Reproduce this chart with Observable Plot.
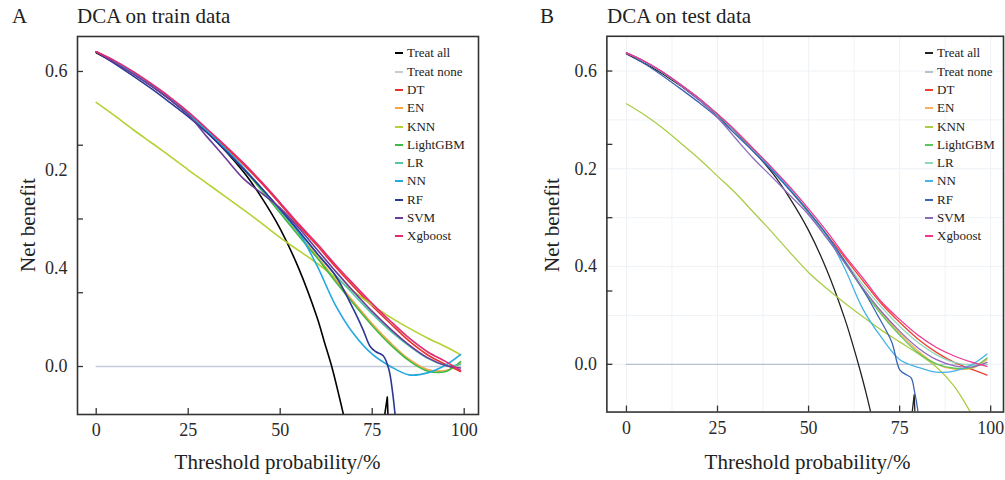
<!DOCTYPE html>
<html><head><meta charset="utf-8">
<script src="https://cdn.jsdelivr.net/npm/d3@7"></script>
<script src="https://cdn.jsdelivr.net/npm/@observablehq/plot@0.6"></script>
<style>
html,body{margin:0;padding:0;background:#fff;overflow:hidden;width:1005px;height:480px;}
#root{position:relative;width:1005px;height:480px;font-family:"Liberation Serif","Times New Roman",serif;color:#222;overflow:hidden;}
.panel{position:absolute;top:0;}
.panel svg text{font-family:"Liberation Serif","Times New Roman",serif !important;}
.lbl{position:absolute;white-space:nowrap;font-size:21px;line-height:21px;color:#222;}
.ylab{transform:translate(-50%,-50%) rotate(-90deg);}
.xlab{transform:translateX(-50%);}
.legend{position:absolute;font-size:13px;color:#222;}
.legend .row{position:absolute;left:0;height:18px;display:flex;align-items:center;white-space:nowrap;}
.legend .sw{width:8px;height:2px;margin-right:4px;}
</style></head>
<body><div id="root"></div>
<script>
// ---------- data ----------
const seriesNames = ["Treat all","Treat none","DT","EN","KNN","LightGBM","LR","NN","RF","SVM","Xgboost"];
const colorsTrain = ["#000000","#c3ccd8","#e8332a","#f7a440","#b3d233","#3dbb45","#4fc6a6","#23a8df","#2b3896","#6b3a9b","#e22a73"];
const colorsTest  = ["#222222","#b7c1cf","#f0412f","#f9b15a","#a9cd46","#5cc65a","#8dd8bc","#45b2e8","#3a63b5","#8c6bbd","#f2358d"];

const tGrid = [0,5,10,15,20,25,30,35,40,45,50,55,60,65,70,75,80,85,90,95,99];
const noneT = [0,99];
const noneV = [0,0];

// train (panel A)
const trainDT      = [0.640,0.621,0.598,0.573,0.546,0.516,0.482,0.447,0.411,0.372,0.330,0.287,0.246,0.203,0.162,0.123,0.087,0.052,0.024,0.004,-0.010];
const trainEN      = [0.640,0.620,0.597,0.572,0.545,0.514,0.479,0.442,0.402,0.359,0.313,0.268,0.224,0.177,0.131,0.087,0.048,0.015,-0.006,-0.008,0.006];
const trainKNN     = [0.537,0.510,0.482,0.455,0.428,0.400,0.373,0.346,0.319,0.291,0.262,0.236,0.210,0.181,0.152,0.125,0.100,0.078,0.058,0.040,0.024];
const trainLightGBM= [0.640,0.620,0.597,0.572,0.545,0.514,0.479,0.442,0.402,0.358,0.312,0.266,0.221,0.173,0.127,0.083,0.044,0.012,-0.009,-0.010,0.010];
const trainLR      = [0.640,0.620,0.597,0.572,0.545,0.514,0.480,0.443,0.404,0.362,0.318,0.273,0.230,0.186,0.146,0.107,0.072,0.042,0.017,0.002,0.004];
const trainNN      = [0.640,0.620,0.597,0.572,0.545,0.514,0.480,0.443,0.404,0.362,0.318,0.273,0.205,0.125,0.066,0.025,0.000,-0.017,-0.013,0.003,0.024];
const trainSVM     = [0.640,0.618,0.595,0.570,0.543,0.512,0.468,0.425,0.382,0.352,0.322,0.282,0.238,0.194,0.152,0.112,0.076,0.044,0.018,0.002,-0.003];
const trainXgboost = [0.640,0.622,0.600,0.575,0.548,0.518,0.484,0.450,0.414,0.375,0.333,0.290,0.250,0.207,0.167,0.128,0.092,0.058,0.030,0.010,-0.008];
const trainRFT = [0,5,10,15,20,25,30,35,40,45,50,55,60,65,70,72.5,74.5,76,78,79.5,80.5,81.5,83];
const trainRFV = [0.640,0.616,0.591,0.565,0.537,0.508,0.476,0.440,0.402,0.362,0.320,0.276,0.230,0.185,0.115,0.075,0.040,0.030,0.022,-0.005,-0.050,-0.120,-0.250];
const trainAllT = [0,10,20,30,40,45,50,55,60,62,64,66,68,70];
const trainAllV = [0.638,0.596,0.543,0.478,0.396,0.343,0.280,0.200,0.100,0.050,0.000,-0.060,-0.125,-0.200];
const trainSpikeT = [77.6,79.1,79.5];
const trainSpikeV = [-0.140,-0.062,-0.140];

// test (panel B)
const testDT      = [0.637,0.619,0.597,0.571,0.543,0.511,0.476,0.438,0.399,0.358,0.313,0.266,0.218,0.170,0.124,0.086,0.052,0.025,0.004,-0.011,-0.022];
const testEN      = [0.637,0.619,0.597,0.571,0.543,0.511,0.476,0.438,0.399,0.356,0.310,0.260,0.208,0.155,0.106,0.064,0.028,0.001,-0.010,-0.008,0.010];
const testKNN     = [0.533,0.510,0.483,0.452,0.420,0.385,0.350,0.310,0.270,0.228,0.188,0.155,0.125,0.097,0.070,0.046,0.022,-0.005,-0.045,-0.105,-0.160];
const testLightGBM= [0.637,0.619,0.597,0.571,0.543,0.511,0.476,0.438,0.399,0.356,0.310,0.260,0.207,0.152,0.102,0.060,0.024,0.001,-0.008,-0.006,0.013];
const testLR      = [0.637,0.619,0.597,0.571,0.543,0.511,0.476,0.439,0.400,0.358,0.312,0.263,0.212,0.162,0.117,0.078,0.045,0.020,0.004,-0.002,0.000];
const testNN      = [0.637,0.619,0.597,0.571,0.543,0.511,0.476,0.439,0.400,0.358,0.312,0.265,0.195,0.112,0.055,0.010,-0.006,-0.016,-0.014,0.000,0.021];
const testSVM     = [0.637,0.619,0.597,0.570,0.540,0.505,0.462,0.420,0.383,0.345,0.306,0.258,0.207,0.155,0.108,0.068,0.034,0.010,-0.003,-0.005,0.004];
const testXgboost = [0.637,0.620,0.598,0.572,0.544,0.512,0.478,0.440,0.402,0.362,0.318,0.272,0.222,0.176,0.128,0.092,0.060,0.035,0.017,0.004,-0.004];
const testRFT = [0,5,10,15,20,25,30,35,40,45,50,55,60,65,69,72.8,75.1,77,78.2,79.1,80.1,81.5];
const testRFV = [0.637,0.615,0.590,0.563,0.535,0.505,0.470,0.434,0.396,0.355,0.312,0.265,0.210,0.152,0.100,0.046,-0.012,-0.022,-0.028,-0.056,-0.100,-0.200];
const testAllT = [0,10,20,30,40,45,50,55,60,62,64,66,68,70];
const testAllV = [0.635,0.594,0.541,0.474,0.392,0.338,0.274,0.193,0.092,0.044,-0.008,-0.065,-0.130,-0.210];
const testSpikeT = [77.8,79.0,79.4];
const testSpikeV = [-0.140,-0.062,-0.140];

// ticks
const xTickValues = [0,25,50,75,100];
const xTickLabels = ["0","25","50","75","100"];
const yTickMarks = [0,0.15,0.3,0.45,0.6];
const yLabelPositions = [0,0.2,0.4,0.6];
const yLabelTexts = ["0.0","0.4","0.2","0.6"];
const gridXValues = [0,12.5,25,37.5,50,62.5,75,87.5,100];
const gridYValues = [0,0.1,0.2,0.3,0.4,0.5,0.6];

const panelTitles = ["DCA on train data","DCA on test data"];
const panelLetters = ["A","B"];
const xTitle = "Threshold probability/%";
const yTitle = "Net benefit";

// ---------- drawing ----------
const FONT = '"Liberation Serif","Times New Roman",serif';
const rows = (ts, vs) => ts.map((t,i)=>({t, v:vs[i]}));
const root = document.getElementById("root");

function makePanel(o){
  const H = 480;
  const plotW = o.width - o.ml - o.mr, plotH = H - 36 - 66;
  const marks = [];
  if (o.grid){
    marks.push(Plot.gridX(gridXValues,{stroke:"#eef2f6",strokeOpacity:1,strokeWidth:1}));
    marks.push(Plot.gridY(gridYValues,{stroke:"#eef2f6",strokeOpacity:1,strokeWidth:1}));
  }
  const c = o.colors;
  const lineOpt = (col, w) => ({x:"t", y:"v", stroke:col, strokeWidth:w, curve:"catmull-rom", clip:true});
  marks.push(Plot.line(rows(noneT,noneV), lineOpt(c[1], o.sw)));
  marks.push(Plot.line(rows(o.allT,o.allV), lineOpt(c[0], o.sw)));
  marks.push(Plot.line(rows(o.spikeT,o.spikeV), {...lineOpt(c[0], o.sw), curve:"linear"}));
  const order = [["DT",2],["EN",3],["KNN",4],["LightGBM",5],["LR",6],["NN",7],["RF",8],["SVM",9],["Xgboost",10]];
  for (const [name, ci] of order){
    const d = name === "RF" ? rows(o.rfT, o.rfV) : rows(tGrid, o.series[name]);
    marks.push(Plot.line(d, lineOpt(c[ci], o.sw)));
  }
  marks.push(Plot.tickY(yTickMarks,{y:d=>d, insetRight:plotW-6, stroke:"#333", strokeWidth:1.3}));
  marks.push(Plot.tickX(xTickValues,{x:d=>d, insetTop:plotH-6, stroke:"#333", strokeWidth:1.3}));
  marks.push(Plot.axisY(yLabelPositions,{tickSize:0, tickPadding:10, fontSize:18, fontFamily:FONT, fill:"#2a2a2a", tickFormat:d=>yLabelTexts[yLabelPositions.indexOf(d)], label:null}));
  marks.push(Plot.axisX(xTickValues,{tickSize:0, tickPadding:9, fontSize:18, fontFamily:FONT, fill:"#2a2a2a", tickFormat:d=>xTickLabels[xTickValues.indexOf(d)], label:null}));
  marks.push(Plot.frame({stroke:"#333", strokeWidth:1.6}));
  const svg = Plot.plot({
    width:o.width, height:H, marginLeft:o.ml, marginRight:o.mr, marginTop:36, marginBottom:66,
    x:{domain:o.xDomain, label:null}, y:{domain:[-0.0976,0.6711], label:null},
    style:{fontFamily:FONT, fontSize:"18px", color:"#333", background:"transparent", overflow:"visible"},
    marks
  });
  const wrap = document.createElement("div");
  wrap.className = "panel";
  wrap.style.left = o.left + "px";
  wrap.appendChild(svg);
  root.appendChild(wrap);
}

function addText(txt, cls, left, top){
  const d = document.createElement("div");
  d.className = "lbl " + cls;
  d.style.left = left + "px"; d.style.top = top + "px";
  d.textContent = txt;
  root.appendChild(d);
}

function addLegend(left, colors){
  const lg = document.createElement("div");
  lg.className = "legend";
  lg.style.left = left + "px"; lg.style.top = "0px";
  seriesNames.forEach((n,i)=>{
    const r = document.createElement("div");
    r.className = "row";
    r.style.top = (44.3 + i*18.3) + "px";
    const sw = document.createElement("span");
    sw.className = "sw"; sw.style.background = colors[i];
    const tx = document.createElement("span"); tx.textContent = n;
    r.appendChild(sw); r.appendChild(tx);
    lg.appendChild(r);
  });
  root.appendChild(lg);
}

makePanel({left:0, width:500, ml:77, mr:22, xDomain:[-5.082,103.886], colors:colorsTrain, sw:1.6, grid:false,
  allT:trainAllT, allV:trainAllV, spikeT:trainSpikeT, spikeV:trainSpikeV, rfT:trainRFT, rfV:trainRFV,
  series:{DT:trainDT, EN:trainEN, KNN:trainKNN, LightGBM:trainLightGBM, LR:trainLR, NN:trainNN, SVM:trainSVM, Xgboost:trainXgboost}});
makePanel({left:500, width:508, ml:107, mr:2, xDomain:[-5.377,103.52], colors:colorsTest, sw:1.3, grid:true,
  allT:testAllT, allV:testAllV, spikeT:testSpikeT, spikeV:testSpikeV, rfT:testRFT, rfV:testRFV,
  series:{DT:testDT, EN:testEN, KNN:testKNN, LightGBM:testLightGBM, LR:testLR, NN:testNN, SVM:testSVM, Xgboost:testXgboost}});

addText(panelLetters[0], "", 12, 6.4);
addText(panelTitles[0], "", 77, 6.4);
addText(panelLetters[1], "", 540, 6.4);
addText(panelTitles[1], "", 607, 6.4);
addText(yTitle, "ylab", 27.5, 225);
addText(yTitle, "ylab", 552, 225);
addText(xTitle, "xlab", 277.5, 452.4);
addText(xTitle, "xlab", 807.5, 452.4);
addLegend(395, colorsTrain);
addLegend(925, colorsTest);
</script></body></html>
